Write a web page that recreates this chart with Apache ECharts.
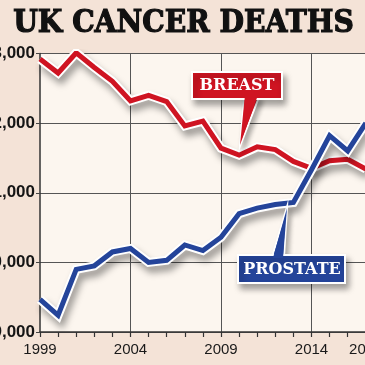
<!DOCTYPE html>
<html><head><meta charset="utf-8">
<script src="https://cdn.jsdelivr.net/npm/echarts@6/dist/echarts.min.js"></script>
<style>html,body{margin:0;padding:0;background:#f4e3d7}#c{width:365px;height:365px}</style>
</head><body><div id="c"></div>
<script>
const years = ['1999','2000','2001','2002','2003','2004','2005','2006','2007','2008','2009','2010','2011','2012','2013','2014','2015','2016','2017'];
const breast = [12920,12720,13010,12800,12600,12320,12400,12310,11960,12030,11640,11540,11660,11620,11450,11350,11460,11480,11340];
const prostate = [9470,9240,9900,9950,10150,10200,10000,10030,10250,10170,10360,10700,10780,10830,10860,11330,11820,11600,12000];
const labelYears = ['1999','2004','2009','2014','2017'];
const gridYears = ['2004','2009','2014'];
const yTicks = [9000,10000,11000,12000,13000];
const titleText = 'UK CANCER DEATHS';
const breastLabel = 'BREAST';
const prostateLabel = 'PROSTATE';

const RED = '#cf1422', BLUE = '#24449a';
const chart = echarts.init(document.getElementById('c'), null, {renderer:'canvas'});
const halo = {color:'#ffffff', width:9, shadowColor:'rgba(0,0,0,0.38)', shadowBlur:7, shadowOffsetX:3, shadowOffsetY:6, join:'miter'};
chart.setOption({
  backgroundColor:'#f4e3d7',
  animation:false,
  grid:{left:40, top:53.5, width:325.8, height:278.5, show:true, backgroundColor:'#fcf6ef', borderWidth:0, containLabel:false, outerBoundsMode:'none'},
  xAxis:{type:'category', data:years, boundaryGap:false,
    axisLine:{lineStyle:{color:'#333', width:1.5}},
    axisTick:{show:true, interval:0, length:5, lineStyle:{color:'#333', width:1.2}},
    axisLabel:{interval:(i,v)=>labelYears.includes(v), margin:10, fontSize:15, color:'#1a1a1a', fontFamily:'Liberation Sans', hideOverlap:false},
    splitLine:{show:true, interval:(i,v)=>gridYears.includes(v), lineStyle:{color:'#555', width:1}}},
  yAxis:{type:'value', min:yTicks[0], max:yTicks[yTicks.length-1], interval:1000,
    axisLine:{show:true, lineStyle:{color:'#333', width:1.5}},
    axisTick:{show:true, length:4, lineStyle:{color:'#444'}},
    axisLabel:{margin:5, fontSize:17, fontWeight:'bold', color:'#151515', fontFamily:'Liberation Sans',
      formatter:v=>v.toLocaleString('en-US')},
    splitLine:{show:true, lineStyle:{color:'#555', width:1}}},
  series:[
    {type:'line', data:breast, symbol:'none', lineStyle:halo, z:2},
    {type:'line', data:breast, symbol:'none', lineStyle:{color:RED, width:5, join:'miter'}, z:2},
    {type:'line', data:prostate, symbol:'none', lineStyle:halo, z:2},
    {type:'line', data:prostate, symbol:'none', lineStyle:{color:BLUE, width:5, join:'miter'}, z:2}
  ],
  graphic:[
    {type:'text', x:183.5, y:8, scaleX:0.91, originX:0, z:10, style:{text:titleText, font:'bold 31px "DejaVu Serif"', fill:'#111', stroke:'#111', lineWidth:1.2, textAlign:'center'}},
    // breast callout
    {type:'polygon', z:10, shape:{points:[[244,97],[259,97],[240,146]]}, style:{fill:RED, stroke:'#fff', lineWidth:2, shadowColor:'rgba(0,0,0,0.3)', shadowBlur:5, shadowOffsetX:3, shadowOffsetY:4}},
    {type:'rect', z:11, shape:{x:192, y:72, width:90, height:27}, style:{fill:RED, stroke:'#fff', lineWidth:2, shadowColor:'rgba(0,0,0,0.35)', shadowBlur:6, shadowOffsetX:3, shadowOffsetY:5}},
    {type:'polygon', z:12, shape:{points:[[245,95],[258,95],[240,145]]}, style:{fill:RED}},
    {type:'text', z:13, x:237, y:86, style:{text:breastLabel, font:'bold 16px "DejaVu Serif"', fill:'#fff', textAlign:'center', textVerticalAlign:'middle'}},
    // prostate callout
    {type:'polygon', z:10, shape:{points:[[272,257],[284,257],[287,207]]}, style:{fill:BLUE, stroke:'#fff', lineWidth:2, shadowColor:'rgba(0,0,0,0.3)', shadowBlur:5, shadowOffsetX:3, shadowOffsetY:4}},
    {type:'rect', z:11, shape:{x:238, y:255, width:107, height:28}, style:{fill:BLUE, stroke:'#fff', lineWidth:2, shadowColor:'rgba(0,0,0,0.35)', shadowBlur:6, shadowOffsetX:3, shadowOffsetY:5}},
    {type:'polygon', z:12, shape:{points:[[273,258],[283,258],[287,208]]}, style:{fill:BLUE}},
    {type:'text', z:13, x:292, y:270, style:{text:prostateLabel, font:'bold 16px "DejaVu Serif"', fill:'#fff', textAlign:'center', textVerticalAlign:'middle'}}
  ]
});
</script></body></html>
